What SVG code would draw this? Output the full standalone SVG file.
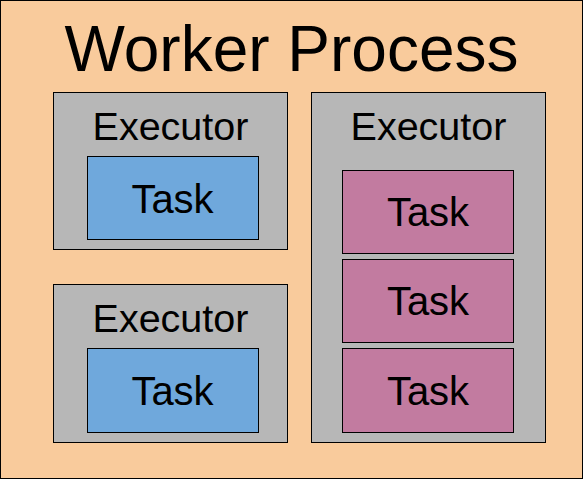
<svg xmlns="http://www.w3.org/2000/svg" width="583" height="479" viewBox="0 0 583 479">
<style>
rect{stroke:#000;stroke-width:1}
.proc{fill:#f9cb9c}
.exec{fill:#b7b7b7}
.blue{fill:#6fa8dc}
.pink{fill:#c27ba0}
text{font-family:"Liberation Sans",Arial,sans-serif;fill:#000;text-anchor:middle}
.t{font-size:64px}
.e{font-size:39.5px}
.k{font-size:40px}
</style>
<g id="worker">
<rect class="proc" x="0.5" y="0.5" width="582" height="478"/>
<text class="t" x="291.5" y="71">Worker Process</text>
</g>
<g id="executor1">
<rect class="exec" x="53.5" y="92.5" width="234" height="157"/>
<text class="e" x="170.5" y="139.5">Executor</text>
</g>
<g id="task1">
<rect class="blue" x="87.5" y="156.5" width="171" height="83"/>
<text class="k" x="172.5" y="212.5">Task</text>
</g>
<g id="executor3">
<rect class="exec" x="53.5" y="284.5" width="234" height="158"/>
<text class="e" x="170.5" y="331.5">Executor</text>
</g>
<g id="task3">
<rect class="blue" x="87.5" y="348.5" width="171" height="84"/>
<text class="k" x="172.5" y="404.5">Task</text>
</g>
<g id="executor2">
<rect class="exec" x="311.5" y="92.5" width="234" height="350"/>
<text class="e" x="428.5" y="139.5">Executor</text>
</g>
<g id="taskA">
<rect class="pink" x="342.5" y="170.5" width="171" height="83"/>
<text class="k" x="428" y="226">Task</text>
</g>
<g id="taskB">
<rect class="pink" x="342.5" y="259.5" width="171" height="83"/>
<text class="k" x="428" y="315">Task</text>
</g>
<g id="taskC">
<rect class="pink" x="342.5" y="348.5" width="171" height="84"/>
<text class="k" x="428" y="404.5">Task</text>
</g>
<g id="connectors"></g>
</svg>
